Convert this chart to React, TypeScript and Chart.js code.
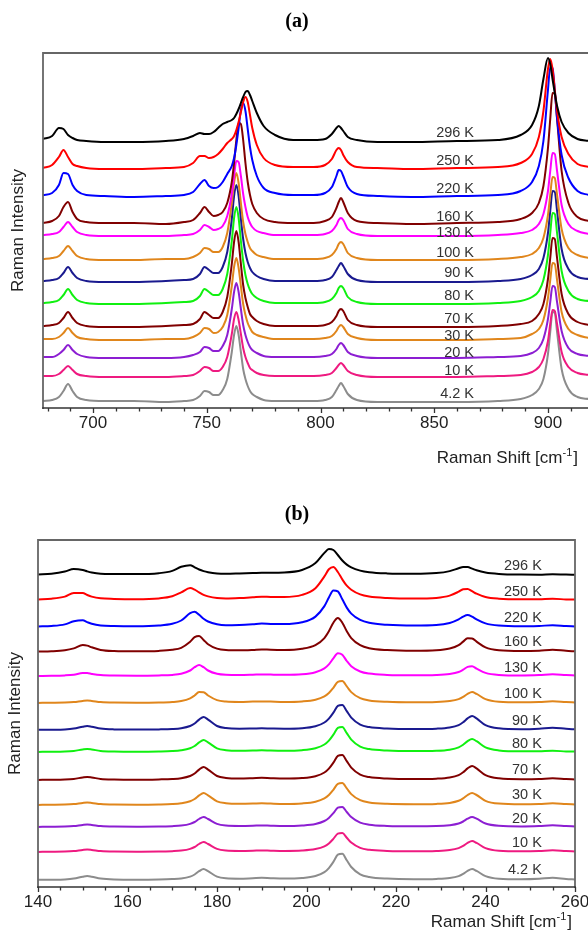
import { useEffect, useRef } from 'react';
import { Chart, registerables } from 'chart.js';

Chart.register(...registerables);

// Sample temperatures, top trace first
const temperatures = ['296 K', '250 K', '220 K', '160 K', '130 K', '100 K', '90 K', '80 K', '70 K', '30 K', '20 K', '10 K', '4.2 K'];
const traceColors = ['#000000', '#ff0000', '#0000ff', '#800000', '#ff00ff', '#e0861c', '#1a1a8f', '#10f010', '#800000', '#e0861c', '#8c1ed2', '#ee1a80', '#8c8c8c'];

// ---------- (a) high-frequency range ----------
const shiftA = [678, 682, 685, 687, 689, 691, 693, 697, 705, 718,
  732, 740, 744, 747, 749, 751, 753, 755, 757, 759,
  761, 762, 763, 764, 765, 766, 767, 768, 769, 770,
  772, 775, 780, 788, 797, 802, 805, 807, 808, 809,
  810, 812, 816, 825, 840, 860, 878, 888, 893, 896,
  898, 900, 901, 902, 903, 904, 906, 909, 913, 918];
const offsetA = [266, 239, 211, 184, 172, 148, 126, 104, 81, 68, 50, 31, 6];
const tagHeightA = [275, 247, 219, 191, 175, 155, 135, 112, 89, 72, 55, 37, 14];
const tagShiftA = 867.5;
const minorTicksA = [680, 690, 700, 710, 720, 730, 740, 750, 760, 770, 780, 790, 800, 810, 820, 830, 840, 850, 860, 870, 880, 890, 900, 910];
const majorTicksA = [700, 750, 800, 850, 900];

const a296 = [3, 6, 14, 13, 7, 4, 2, 1, 0, 0,
  1, 3, 6, 9, 8, 8, 10, 14, 18, 20, 22, 24, 28, 33, 39, 45, 50, 51, 47, 41, 29, 16, 7,
  2, 2, 3, 8, 14, 16, 14, 11, 5, 2, 0, 0,
  1, 2, 7, 17, 36, 63, 84, 78, 63, 49, 36, 20, 9, 3, 1];
const a250 = [1, 4, 12, 19, 12, 5, 3, 1, 0, 0,
  1, 2, 6, 13, 13, 11, 12, 15, 20, 26, 30, 33, 39, 47, 57, 67, 72, 67, 54, 41, 24, 11, 4,
  2, 2, 4, 10, 19, 21, 19, 14, 7, 2, 1, 0,
  1, 2, 6, 15, 32, 58, 100, 110, 100, 79, 58, 32, 15, 5, 2];
const a220 = [2, 4, 12, 24, 23, 12, 6, 2, 1, 0,
  1, 2, 5, 13, 17, 11, 9, 10, 15, 23, 31, 39, 52, 69, 87, 94, 86, 68, 50, 37, 21, 9, 4,
  2, 2, 4, 10, 21, 27, 26, 21, 10, 3, 1, 0,
  1, 2, 6, 15, 31, 56, 107, 130, 129, 107, 79, 42, 19, 6, 2];
const a160 = [1, 3, 8, 17, 22, 12, 5, 2, 1, 1,
  0, 2, 4, 11, 17, 12, 8, 9, 12, 21, 42, 61, 84, 101, 100, 84, 61, 42, 29, 20, 11, 5, 2,
  1, 1, 3, 7, 16, 22, 26, 22, 11, 3, 1, 0,
  1, 2, 5, 11, 21, 38, 76, 105, 131, 130, 105, 53, 21, 7, 3];
const a130 = [1, 2, 4, 9, 14, 9, 4, 1, 0, 0,
  0, 1, 2, 6, 11, 9, 6, 7, 10, 20, 42, 60, 75, 74, 60, 42, 29, 19, 13, 9, 5, 3, 1,
  1, 1, 2, 5, 11, 16, 18, 16, 7, 2, 0, 0,
  0, 1, 3, 6, 12, 22, 45, 65, 83, 82, 65, 31, 12, 5, 2];
const a100 = [1, 2, 4, 9, 14, 9, 4, 1, 0, 0,
  1, 1, 3, 7, 12, 11, 8, 8, 13, 27, 57, 77, 87, 77, 57, 38, 26, 18, 12, 9, 5, 3, 1,
  1, 1, 2, 5, 11, 16, 18, 16, 7, 2, 0, 0,
  0, 1, 3, 6, 12, 22, 45, 65, 83, 82, 65, 31, 12, 5, 2];
const a90 = [1, 2, 4, 9, 15, 9, 4, 1, 0, 0,
  1, 2, 3, 8, 15, 12, 9, 9, 15, 30, 63, 86, 97, 86, 63, 43, 29, 20, 14, 10, 6, 3, 1,
  1, 1, 2, 5, 12, 16, 19, 16, 8, 2, 0, 0,
  0, 1, 3, 7, 13, 24, 49, 71, 91, 90, 71, 33, 13, 5, 3];
const a80 = [1, 2, 4, 9, 15, 9, 4, 1, 0, 0,
  1, 2, 3, 8, 15, 12, 9, 9, 15, 30, 63, 86, 97, 86, 63, 43, 29, 20, 14, 10, 6, 3, 1,
  1, 1, 2, 5, 11, 16, 18, 16, 7, 2, 0, 0,
  0, 1, 3, 7, 13, 24, 49, 71, 91, 90, 71, 33, 13, 5, 3];
const a70 = [1, 2, 4, 9, 15, 9, 4, 1, 0, 0,
  1, 2, 3, 8, 15, 12, 9, 9, 15, 30, 63, 85, 96, 85, 63, 42, 29, 20, 13, 10, 6, 3, 1,
  1, 1, 2, 5, 11, 16, 18, 16, 7, 2, 0, 0,
  0, 1, 3, 6, 13, 23, 48, 69, 89, 88, 69, 33, 13, 5, 2];
const a30 = [1, 1, 3, 7, 12, 7, 3, 1, 0, 0,
  1, 1, 3, 7, 12, 11, 7, 8, 13, 25, 54, 73, 82, 72, 54, 36, 25, 17, 12, 8, 5, 3, 1,
  1, 1, 2, 4, 9, 13, 15, 13, 6, 2, 0, 0,
  0, 1, 2, 6, 11, 20, 42, 60, 77, 76, 60, 28, 11, 5, 2];
const a20 = [1, 1, 4, 8, 13, 8, 4, 1, 0, 0,
  0, 1, 3, 6, 11, 10, 7, 7, 12, 23, 49, 66, 75, 66, 49, 33, 23, 16, 11, 8, 5, 2, 1,
  1, 1, 2, 4, 9, 13, 15, 13, 6, 2, 0, 0,
  0, 1, 2, 5, 10, 19, 39, 56, 72, 71, 56, 27, 10, 4, 2];
const a10 = [1, 1, 3, 7, 11, 7, 3, 1, 0, 0,
  0, 1, 2, 6, 10, 9, 6, 6, 10, 20, 43, 58, 65, 57, 43, 29, 20, 14, 9, 7, 4, 2, 1,
  1, 1, 2, 4, 9, 12, 14, 12, 6, 2, 0, 0,
  0, 1, 2, 5, 10, 18, 36, 53, 67, 66, 53, 25, 10, 4, 2];
const a4 = [1, 2, 5, 11, 18, 11, 5, 2, 1, 1,
  0, 1, 2, 6, 11, 10, 7, 7, 12, 23, 50, 67, 76, 67, 50, 33, 23, 16, 11, 8, 5, 2, 1,
  1, 1, 2, 5, 12, 16, 19, 16, 8, 2, 0, 0,
  0, 1, 3, 7, 13, 23, 48, 70, 90, 89, 70, 33, 13, 5, 3];
const spectraA = [a296, a250, a220, a160, a130, a100, a90, a80, a70, a30, a20, a10, a4];

// ---------- (b) low-frequency range ----------
const shiftB = [140, 143, 146, 148, 150, 151, 152, 154, 157, 162,
  167, 170, 172, 174, 175, 176, 177, 178, 180, 182,
  185, 188, 190, 192, 195, 199, 202, 204, 205, 206,
  207, 208, 209, 210, 212, 214, 218, 224, 229, 232,
  234, 235, 236, 237, 238, 240, 243, 248, 252, 255,
  258, 260];
const offsetB = [312, 287, 260, 235, 211, 184, 157, 135, 107, 82, 60, 35, 7];
const tagHeightB = [321, 295, 269, 245, 219, 193, 166, 143, 117, 92, 68, 44, 17];
const tagShiftB = 252.6;
const minorTicksB = [140, 145, 150, 155, 160, 165, 170, 175, 180, 185, 190, 195, 200, 205, 210, 215, 220, 225, 230, 235, 240, 245, 250, 255, 260];
const majorTicksB = [140, 160, 180, 200, 220, 240, 260];

const b296 = [0.6, 1.3, 3.4, 6, 5, 3.6, 2.5, 1.3, 1, 0.9,
  1.8, 4.1, 8.2, 9.8, 7.7, 5.5, 3.9, 2.8, 1.5, 1.2,
  1.5, 1.9, 2.3, 2.3, 2.5, 5, 11.9, 22.1, 26, 25,
  20, 14.5, 10.4, 7.6, 4.4, 2.8, 1.6, 1.2, 1.9, 3.9,
  6.7, 8, 7.9, 6.4, 4.7, 2.5, 1.1, 0.4, 0.3, 0.7,
  0.4, 0.3];
const b250 = [0.6, 1.3, 3.4, 7, 7, 5, 3.4, 1.7, 1.1, 0.8,
  1.6, 3.7, 7.6, 12, 10.4, 7.6, 5.1, 3.6, 1.9, 1.5,
  1.9, 2.7, 3.3, 3.1, 3, 5.1, 11.8, 23.6, 30.7, 33,
  28, 20.6, 14.3, 10.3, 5.6, 3.5, 2, 1.4, 2.1, 4.4,
  8.3, 10.7, 11, 8.8, 6.3, 3, 1.3, 0.7, 0.8, 1.2,
  0.6, 0.4];
const b220 = [0.5, 1, 2.6, 5.7, 6.7, 4.9, 3.3, 1.6, 1, 0.8,
  1.5, 3.2, 6.5, 13.8, 15.2, 12.2, 8.3, 5.5, 2.7, 1.8,
  2.1, 2.8, 3.4, 3.1, 2.9, 4.7, 10.4, 20.9, 29.5, 36.6,
  35.6, 27.7, 19.4, 13.4, 7.1, 4.2, 2.2, 1.4, 1.9, 4,
  7.6, 10.4, 12, 10.4, 7.6, 3.6, 1.4, 0.7, 1.1, 1.7,
  0.9, 0.5];
const b160 = [0.4, 0.7, 1.7, 3.6, 6.9, 6.4, 4.7, 2.1, 1, 0.7,
  1.1, 2.2, 4.2, 10.2, 14.8, 16, 12.1, 7.8, 3.4, 2,
  1.7, 2.1, 2.6, 2.2, 2, 3.2, 6.9, 13.9, 20.7, 29.3,
  34, 29.3, 20.7, 13.9, 6.8, 3.8, 1.9, 1.2, 1.7, 3.5,
  6.9, 10.4, 13.8, 13.6, 10.4, 4.6, 1.7, 0.9, 1.3, 2.3,
  1.2, 0.7];
const b130 = [0.1, 0.2, 0.6, 1.3, 3, 2.9, 2.1, 0.9, 0.4, 0.3,
  0.6, 1.1, 2.2, 5.5, 8.8, 11, 8.8, 5.5, 2.2, 1.2,
  1, 1.3, 1.6, 1.4, 1.2, 1.7, 3.8, 7.6, 11.6, 17.6,
  22.8, 21.3, 15, 9.8, 4.5, 2.4, 1.1, 0.7, 1, 2,
  4, 6.3, 9.1, 9.8, 7.4, 3.1, 1.1, 0.6, 1, 1.7,
  0.9, 0.5];
const b100 = [0.1, 0.2, 0.4, 0.9, 2.1, 2.5, 2.1, 0.9, 0.4, 0.3,
  0.5, 1, 1.9, 4.6, 7.5, 11, 10.8, 7.5, 2.9, 1.5,
  1.1, 1.4, 1.6, 1.4, 1.1, 1.6, 3.3, 6.6, 10, 15.2,
  21.2, 22, 16.6, 10.9, 4.8, 2.6, 1.2, 0.7, 1, 2,
  3.9, 6.1, 9.1, 11, 9.1, 3.9, 1.3, 0.7, 1, 1.7,
  0.9, 0.5];
const b90 = [0.2, 0.3, 0.6, 1.4, 3.3, 4, 3.3, 1.4, 0.6, 0.4,
  0.6, 1, 1.8, 4, 6.5, 10.4, 13, 10.4, 4, 1.9,
  1.3, 1.5, 1.7, 1.5, 1.3, 1.8, 3.8, 7.5, 11.4, 17.3,
  24.1, 25, 18.8, 12.4, 5.4, 2.9, 1.4, 0.9, 1.3, 2.5,
  4.9, 7.7, 11.6, 14, 11.6, 4.9, 1.7, 0.8, 1.3, 2.2,
  1.2, 0.7];
const b80 = [0.1, 0.2, 0.5, 1.1, 2.5, 3, 2.5, 1.1, 0.5, 0.3,
  0.5, 0.9, 1.7, 3.7, 6, 9.6, 12, 9.6, 3.7, 1.8,
  1.2, 1.4, 1.7, 1.4, 1.2, 1.8, 3.8, 7.5, 11.4, 17.3,
  24.1, 25, 18.8, 12.4, 5.4, 2.9, 1.4, 0.9, 1.2, 2.3,
  4.6, 7.2, 10.8, 13, 10.8, 4.6, 1.6, 0.7, 0.8, 1.2,
  0.6, 0.4];
const b70 = [0.1, 0.2, 0.5, 1.1, 2.5, 3, 2.5, 1.1, 0.5, 0.3,
  0.6, 1, 1.8, 4, 6.5, 10.4, 13, 10.4, 4, 2,
  1.4, 1.8, 2.2, 1.8, 1.4, 1.9, 3.8, 7.5, 11.4, 17.3,
  24.1, 25, 18.8, 12.4, 5.4, 2.9, 1.4, 0.9, 1.3, 2.5,
  4.9, 7.7, 11.6, 14, 11.6, 4.9, 1.7, 0.8, 1, 1.7,
  0.9, 0.5];
const b30 = [0.1, 0.2, 0.4, 0.9, 2.1, 2.5, 2.1, 0.9, 0.4, 0.3,
  0.5, 0.9, 1.7, 3.7, 6, 9.6, 12, 9.6, 3.7, 1.8,
  1.2, 1.4, 1.7, 1.4, 1.1, 1.6, 3.3, 6.6, 10, 15.2,
  21.2, 22, 16.6, 10.9, 4.8, 2.6, 1.2, 0.8, 1.1, 2.1,
  4.2, 6.6, 10, 12, 10, 4.2, 1.4, 0.7, 1, 1.7,
  0.9, 0.5];
const b20 = [0.1, 0.2, 0.4, 0.9, 2.1, 2.5, 2.1, 0.9, 0.4, 0.3,
  0.4, 0.8, 1.4, 3.1, 5, 8, 10, 8, 3.1, 1.5,
  1.1, 1.3, 1.6, 1.3, 1, 1.5, 3, 6, 9.1, 13.8,
  19.3, 20, 15, 9.9, 4.3, 2.3, 1.1, 0.7, 0.9, 1.8,
  3.5, 5.5, 8.3, 10, 8.3, 3.5, 1.2, 0.6, 1, 1.7,
  0.9, 0.5];
const b10 = [0.1, 0.2, 0.4, 0.9, 2.1, 2.5, 2.1, 0.9, 0.4, 0.3,
  0.4, 0.8, 1.4, 3.1, 5, 8, 10, 8, 3.1, 1.5,
  1.1, 1.3, 1.6, 1.3, 1, 1.4, 2.9, 5.7, 8.6, 13.1,
  18.3, 19, 14.3, 9.4, 4.1, 2.2, 1.1, 0.7, 1, 1.9,
  3.9, 6.1, 9.1, 11, 9.1, 3.9, 1.3, 0.7, 1, 1.7,
  0.9, 0.5];
const b4 = [0.2, 0.3, 0.6, 1.4, 3.3, 4, 3.3, 1.4, 0.5, 0.3,
  0.5, 0.9, 1.5, 3.4, 5.5, 8.8, 11, 8.8, 3.4, 1.7,
  1.3, 1.8, 2.2, 1.8, 1.4, 2, 4, 7.8, 11.9, 18.1,
  25.3, 26.2, 19.7, 13, 5.7, 3.1, 1.4, 0.8, 1.1, 2,
  3.9, 6.1, 9.1, 11, 9.1, 3.9, 1.3, 0.7, 1.2, 2.2,
  1.1, 0.6];
const spectraB = [b296, b250, b220, b160, b130, b100, b90, b80, b70, b30, b20, b10, b4];

const SANS = '"Liberation Sans", Arial, sans-serif';

type PanelSpec = {
  title: string;
  shift: number[];
  spectra: number[][];
  offsets: number[];
  tagHeights: number[];
  tagShift: number;
  minorTicks: number[];
  majorTicks: number[];
  xMin: number;
  xMax: number;
  yMax: number;
  width: number;
  height: number;
  top: number;
  padding: { left: number; top: number; right: number; bottom: number };
  closedRight: boolean;
  titleY: number;
  xTitleRight: number;
  xTitleY: number;
  yTitleX: number;
};

function makeDecor(spec: PanelSpec) {
  return {
    id: 'panelDecor',
    afterDatasetsDraw(chart: any) {
      const { ctx, chartArea: a, scales } = chart;
      const xs = scales.x;
      const ys = scales.y;
      ctx.save();

      // temperature tags
      ctx.font = `14.5px ${SANS}`;
      ctx.fillStyle = '#333';
      ctx.textAlign = 'right';
      ctx.textBaseline = 'middle';
      temperatures.forEach((t, i) => {
        ctx.fillText(t, xs.getPixelForValue(spec.tagShift), ys.getPixelForValue(spec.tagHeights[i]));
      });

      // frame
      ctx.lineCap = 'square';
      ctx.strokeStyle = '#666';
      ctx.lineWidth = 1.8;
      ctx.beginPath();
      ctx.moveTo(a.left, a.bottom);
      ctx.lineTo(a.left, a.top);
      ctx.lineTo(a.right, a.top);
      if (spec.closedRight) ctx.lineTo(a.right, a.bottom);
      ctx.stroke();

      // bottom axis with tick marks
      ctx.strokeStyle = '#333';
      ctx.lineWidth = 1.6;
      ctx.beginPath();
      ctx.moveTo(a.left, a.bottom);
      ctx.lineTo(a.right, a.bottom);
      ctx.stroke();
      ctx.lineWidth = 1.3;
      ctx.lineCap = 'butt';
      ctx.beginPath();
      spec.minorTicks.forEach((v) => {
        const px = Math.round(xs.getPixelForValue(v)) + 0.5;
        const len = spec.majorTicks.includes(v) ? 5 : 3.5;
        ctx.moveTo(px, a.bottom);
        ctx.lineTo(px, a.bottom + len);
      });
      ctx.stroke();

      // x-axis title with superscript
      ctx.fillStyle = '#222';
      ctx.textAlign = 'left';
      ctx.textBaseline = 'alphabetic';
      ctx.font = `17px ${SANS}`;
      const main = 'Raman Shift [cm';
      const close = ']';
      const w1 = ctx.measureText(main).width;
      const w3 = ctx.measureText(close).width;
      ctx.font = `11px ${SANS}`;
      const sup = '-1';
      const w2 = ctx.measureText(sup).width;
      const x0 = spec.xTitleRight - (w1 + w2 + w3 + 1);
      const base = spec.xTitleY + 6;
      ctx.font = `17px ${SANS}`;
      ctx.fillText(main, x0, base);
      ctx.font = `11px ${SANS}`;
      ctx.fillText(sup, x0 + w1, base - 7);
      ctx.font = `17px ${SANS}`;
      ctx.fillText(close, x0 + w1 + w2 + 1, base);

      // y-axis title
      ctx.save();
      ctx.translate(spec.yTitleX, (a.top + a.bottom) / 2);
      ctx.rotate(-Math.PI / 2);
      ctx.textAlign = 'center';
      ctx.textBaseline = 'middle';
      ctx.fillText('Raman Intensity', 0, 0);
      ctx.restore();

      // panel title
      ctx.font = 'bold 20px "Liberation Serif", "Times New Roman", serif';
      ctx.fillStyle = '#000';
      ctx.textAlign = 'center';
      ctx.textBaseline = 'middle';
      ctx.fillText(spec.title, 297, spec.titleY);

      ctx.restore();
    },
  };
}

function Panel({ spec }: { spec: PanelSpec }) {
  const ref = useRef<HTMLCanvasElement | null>(null);

  useEffect(() => {
    const canvas = ref.current;
    if (!canvas) return;
    const datasets = spec.spectra.map((s, k) => ({
      label: temperatures[k],
      data: spec.shift.map((x, i) => ({ x, y: s[i] + spec.offsets[k] })),
      borderColor: traceColors[k],
      backgroundColor: traceColors[k],
      borderWidth: 2,
      pointRadius: 0,
      cubicInterpolationMode: 'monotone' as const,
      borderJoinStyle: 'round' as const,
      fill: false,
    }));
    const chart = new Chart(canvas, {
      type: 'line',
      data: { datasets },
      options: {
        animation: false,
        responsive: false,
        devicePixelRatio: 1,
        events: [],
        layout: { padding: spec.padding },
        plugins: {
          legend: { display: false },
          tooltip: { enabled: false },
          title: { display: false },
        },
        scales: {
          x: {
            type: 'linear',
            min: spec.xMin,
            max: spec.xMax,
            grid: { display: false, drawTicks: false },
            border: { display: false },
            ticks: {
              padding: 5,
              color: '#222',
              font: { family: SANS, size: 17 },
              maxRotation: 0,
              minRotation: 0,
              autoSkip: false,
              callback: (v: any) => String(v),
            },
            afterBuildTicks: (axis: any) => {
              axis.ticks = spec.majorTicks.map((value) => ({ value }));
            },
          },
          y: { display: false, min: 0, max: spec.yMax },
        },
      },
      plugins: [makeDecor(spec)],
    } as any);
    return () => chart.destroy();
  }, [spec]);

  return (
    <canvas
      ref={ref}
      width={spec.width}
      height={spec.height}
      style={{ position: 'absolute', left: 0, top: spec.top, width: spec.width, height: spec.height, display: 'block' }}
    />
  );
}

const panelA: PanelSpec = {
  title: '(a)',
  shift: shiftA,
  spectra: spectraA,
  offsets: offsetA,
  tagHeights: tagHeightA,
  tagShift: tagShiftA,
  minorTicks: minorTicksA,
  majorTicks: majorTicksA,
  xMin: 678,
  xMax: 917.6,
  yMax: 355,
  width: 588,
  height: 470,
  top: 0,
  padding: { left: 43, top: 53, right: 0, bottom: 31.6 },
  closedRight: false,
  titleY: 22,
  xTitleRight: 578,
  xTitleY: 457,
  yTitleX: 18,
};

const panelB: PanelSpec = {
  title: '(b)',
  shift: shiftB,
  spectra: spectraB,
  offsets: offsetB,
  tagHeights: tagHeightB,
  tagShift: tagShiftB,
  minorTicks: minorTicksB,
  majorTicks: majorTicksB,
  xMin: 140,
  xMax: 260,
  yMax: 347,
  width: 600,
  height: 462,
  top: 470,
  padding: { left: 38, top: 70, right: 25, bottom: 14.6 },
  closedRight: true,
  titleY: 45,
  xTitleRight: 572,
  xTitleY: 451,
  yTitleX: 15,
};

export default function App() {
  return (
    <div
      style={{
        position: 'absolute',
        left: 0,
        top: 0,
        width: 588,
        height: 932,
        overflow: 'hidden',
        background: '#fff',
      }}
    >
      <Panel spec={panelA} />
      <Panel spec={panelB} />
    </div>
  );
}
